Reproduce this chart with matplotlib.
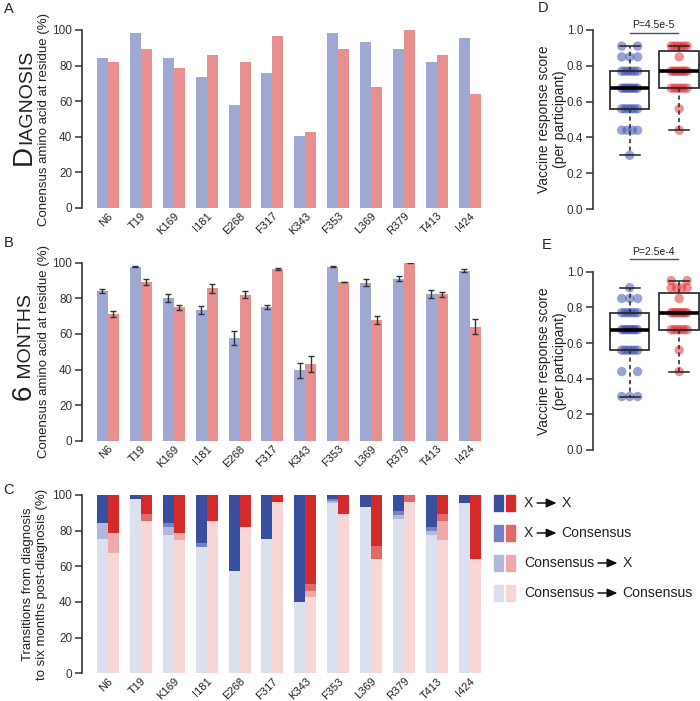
import matplotlib
matplotlib.use("Agg")
import matplotlib.pyplot as plt
import numpy as np

plt.rcParams['font.family'] = ['Liberation Sans', 'DejaVu Sans']
plt.rcParams['text.color'] = '#222222'
plt.rcParams['axes.labelcolor'] = '#222222'
plt.rcParams['xtick.color'] = '#222222'
plt.rcParams['ytick.color'] = '#333333'

residues = ['N6', 'T19', 'K169', 'I181', 'E268', 'F317', 'K343', 'F353', 'L369', 'R379', 'T413', 'I424']

# panel A: diagnosis
diag_blue = [84.4, 98.1, 84.5, 73.5, 57.8, 75.7, 40.2, 98.1, 93.5, 89.2, 82.2, 95.7]
diag_red = [82.2, 89.3, 78.7, 85.8, 82.2, 96.6, 42.8, 89.3, 67.9, 100.0, 85.8, 64.3]

# panel B: 6 months
m6_blue = [83.9, 97.8, 80.1, 73.4, 57.7, 75.1, 39.7, 97.8, 88.8, 91.0, 82.2, 95.5]
m6_blue_err = [1.2, 0.3, 2.2, 2.5, 4.0, 1.0, 4.2, 0.2, 2.0, 1.5, 2.2, 1.0]
m6_red = [71.2, 89.3, 74.9, 85.6, 82.0, 96.4, 42.9, 89.1, 67.8, 100.0, 82.2, 64.0]
m6_red_err = [1.6, 1.7, 1.5, 2.5, 2.0, 0.6, 4.5, 0.2, 2.5, 0.2, 1.6, 4.2]

# panel C: transitions (bottom to top: CC, CX, XC, XX)
c_blue_cc = [75.3, 97.8, 77.6, 71.0, 57.6, 75.3, 39.8, 95.3, 93.5, 86.5, 77.6, 95.3]
c_blue_cx = [9.0, 0, 4.6, 0, 0, 0, 0, 1.3, 0, 2.3, 2.4, 0]
c_blue_xc = [0, 0, 2.1, 2.3, 0, 0, 0, 1.2, 0, 2.2, 1.9, 0]
c_blue_xx = [15.7, 2.2, 15.7, 26.7, 42.4, 24.7, 60.2, 2.2, 6.5, 9.0, 18.1, 4.7]
c_red_cc = [67.7, 85.4, 74.8, 85.4, 81.9, 96.3, 42.6, 89.2, 64.1, 96.3, 74.8, 64.1]
c_red_cx = [10.8, 0, 3.7, 0, 0, 0, 3.6, 0, 0, 0, 10.6, 0]
c_red_xc = [0, 3.8, 0, 0, 0, 0, 3.7, 0, 7.3, 3.7, 3.8, 0]
c_red_xx = [21.5, 10.8, 21.5, 14.6, 18.1, 3.7, 50.1, 10.8, 28.6, 0, 10.8, 35.9]

legend_labels = [('X', 'X'), ('X', 'Consensus'), ('Consensus', 'X'), ('Consensus', 'Consensus')]

# panels D, E: per participant scores
d_blue = [0.30] + [0.44]*4 + [0.56]*6 + [0.675]*8 + [0.77]*6 + [0.85]*3 + [0.91]*2
d_red = [0.44, 0.56] + [0.675]*6 + [0.77]*8 + [0.85] + [0.91]*6
e_blue = [0.30]*3 + [0.44]*2 + [0.56]*6 + [0.675]*8 + [0.77]*6 + [0.85]*3 + [0.91]
e_red = [0.44, 0.56] + [0.675]*6 + [0.77]*8 + [0.85] + [0.91]*4 + [0.95]*2
p_d = 'P=4.5e-5'
p_e = 'P=2.5e-4'

BLUE_L = '#9fa7d3'
RED_L = '#e8908f'
blues = ['#dcdfee', '#b1b8db', '#7482c2', '#3a4e9f']
reds = ['#f7d6d6', '#eeaaaa', '#e06a6a', '#d42a2a']
PT_BLUE = '#3448a8'
PT_RED = '#e0232a'

W, H = 700, 701
fig = plt.figure(figsize=(W/100, H/100), dpi=100)

def rect(x0, yt, x1, yb):
    return [x0/W, 1 - yb/H, (x1 - x0)/W, (yb - yt)/H]

def style_bar_axis(ax, ylabel, lab_x):
    for s in ['top', 'right', 'bottom']:
        ax.spines[s].set_visible(False)
    ax.spines['left'].set_bounds(0, 100)
    ax.spines['left'].set_linewidth(1.2)
    ax.spines['left'].set_color('#333333')
    ax.set_ylim(0, 100)
    ax.set_xlim(-0.79, 11.43)
    ax.set_yticks([0, 20, 40, 60, 80, 100])
    ax.tick_params(axis='y', length=5, width=1.1, labelsize=8.5, pad=2)
    ax.tick_params(axis='x', length=0, labelsize=8, pad=2)
    ax.set_xticks(np.arange(len(residues)))
    ax.set_xticklabels(residues, rotation=45, ha='right', rotation_mode='anchor')
    ax.set_ylabel(ylabel, fontsize=9.5)
    ax.yaxis.set_label_coords((lab_x - 82) / 402, 0.5)

x = np.arange(len(residues))
bw = 0.334

# A
axA = fig.add_axes(rect(82, 30, 484, 208))
axA.bar(x - bw/2, diag_blue, bw, color=BLUE_L)
axA.bar(x + bw/2, diag_red, bw, color=RED_L)
style_bar_axis(axA, 'Conensus amino acid at residue (%)', 50)

# B
axB = fig.add_axes(rect(82, 262.7, 484, 440.7))
axB.bar(x - bw/2, m6_blue, bw, color=BLUE_L)
axB.bar(x + bw/2, m6_red, bw, color=RED_L)
axB.errorbar(x - bw/2, m6_blue, yerr=m6_blue_err, fmt='none', ecolor='#333333', elinewidth=1, capsize=2.5, capthick=1)
axB.errorbar(x + bw/2, m6_red, yerr=m6_red_err, fmt='none', ecolor='#333333', elinewidth=1, capsize=2.5, capthick=1)
style_bar_axis(axB, 'Conensus amino acid at residue (%)', 50)

# C
axC = fig.add_axes(rect(82, 495, 484, 673.3))
bottom_b = np.zeros(len(residues))
bottom_r = np.zeros(len(residues))
for vals_b, vals_r, cb, cr in zip([c_blue_cc, c_blue_cx, c_blue_xc, c_blue_xx],
                                  [c_red_cc, c_red_cx, c_red_xc, c_red_xx], blues, reds):
    axC.bar(x - bw/2, vals_b, bw, bottom=bottom_b, color=cb)
    axC.bar(x + bw/2, vals_r, bw, bottom=bottom_r, color=cr)
    bottom_b += np.array(vals_b)
    bottom_r += np.array(vals_r)
style_bar_axis(axC, 'Transitions from diagnosis\nto six months post-diagnosis (%)', 48)

# legend for C
rows_y = [503, 533, 563, 593]
r = fig.canvas.get_renderer()
for i, (a, b) in enumerate(legend_labels):
    yc = rows_y[i]
    ci = 3 - i
    fig.patches.append(plt.Rectangle((494/W, 1 - (yc + 8)/H), 8.5/W, 16/H, color=blues[ci], transform=fig.transFigure))
    fig.patches.append(plt.Rectangle((506/W, 1 - (yc + 8)/H), 8.5/W, 16/H, color=reds[ci], transform=fig.transFigure))
    t1 = fig.text(524/W, 1 - yc/H, a, fontsize=10.1, va='center', ha='left')
    bb = t1.get_window_extent(r)
    xa = bb.x1 + 1
    xb = xa + 25
    fig.add_artist(matplotlib.patches.FancyArrowPatch((xa/W, 1 - yc/H), (xb/W, 1 - yc/H), transform=fig.transFigure,
                                                       arrowstyle='-|>,head_length=6,head_width=2.6', mutation_scale=1,
                                                       color='#111111', lw=1.1))
    fig.text((xb + 2)/W, 1 - yc/H, b, fontsize=10.1, va='center', ha='left')

# D, E
def box_panel(axrect, blue, red, ptxt, py, ty):
    ax = fig.add_axes(axrect)
    for k, (vals, col) in enumerate([(blue, PT_BLUE), (red, PT_RED)]):
        vals = np.array(vals)
        xs = np.zeros(len(vals))
        for v in np.unique(vals):
            idx = np.where(vals == v)[0]
            n = len(idx)
            xs[idx] = np.linspace(-0.16, 0.16, n) if n > 1 else 0
        ax.scatter(k + 1 + xs, vals, s=46, color=col, alpha=0.5, edgecolors='none', zorder=2)
    ax.boxplot([blue, red], positions=[1, 2], widths=0.8, whis=1.5, showfliers=False, capwidths=0.4,
               patch_artist=True,
               boxprops=dict(facecolor='none', edgecolor='#222222', linewidth=1.2),
               medianprops=dict(color='black', linewidth=2.6),
               whiskerprops=dict(color='#333333', linewidth=1.2, linestyle=(0, (2.5, 2))),
               capprops=dict(color='#222222', linewidth=1.1), zorder=3)
    for s in ['top', 'right', 'bottom']:
        ax.spines[s].set_visible(False)
    ax.spines['left'].set_bounds(0, 1)
    ax.spines['left'].set_linewidth(1.2)
    ax.spines['left'].set_color('#333333')
    ax.set_ylim(0, 1)
    ax.set_xlim(0.26, 2.42)
    ax.set_yticks([0, 0.2, 0.4, 0.6, 0.8, 1.0])
    ax.set_yticklabels(['0.0', '0.2', '0.4', '0.6', '0.8', '1.0'])
    ax.tick_params(axis='y', length=5, width=1.1, labelsize=8.5, pad=2)
    ax.set_xticks([])
    ax.set_ylabel('Vaccine response score\n(per participant)', fontsize=10)
    ax.yaxis.set_label_coords((567 - 593) / 107, 0.5)
    ax.plot([1.0, 1.97], [py, py], color='#555555', lw=1, clip_on=False)
    ax.text(1.485, ty, ptxt, fontsize=7.5, ha='center', va='bottom', clip_on=False)
    return ax

box_panel(rect(593, 30, 700, 209), d_blue, d_red, p_d, 0.985, 1.0)
box_panel(rect(593, 271.7, 700, 450), e_blue, e_red, p_e, 1.07, 1.085)

# panel letters
for lab, (px, py) in zip('ABCDE', [(9, 9), (9, 243), (9, 490), (543, 8), (547, 245)]):
    fig.text(px/W, 1 - py/H, lab, fontsize=10.5, ha='center', va='center')

# small caps side titles
def side_title(xb, ystart, big, rest):
    t = fig.text(xb/W, 1 - ystart/H, big, rotation=90, rotation_mode='anchor', ha='left', va='baseline', fontsize=20)
    bb = t.get_window_extent(r)
    fig.text(xb/W, 1 - ystart/H + (bb.height + 1)/H, rest, rotation=90, rotation_mode='anchor',
             ha='left', va='baseline', fontsize=14)

side_title(31, 165, 'D', 'IAGNOSIS')
side_title(31, 400, '6', ' MONTHS')

fig.savefig('out.png', dpi=100)
